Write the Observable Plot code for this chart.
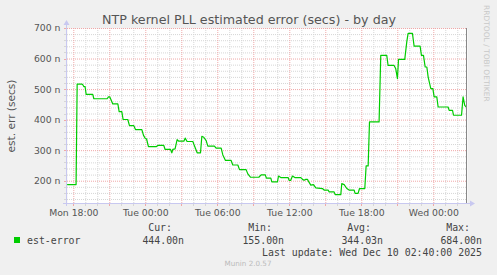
<!DOCTYPE html>
<html><head><meta charset="utf-8">
<script src="https://cdn.jsdelivr.net/npm/d3@7"></script>
<script src="https://cdn.jsdelivr.net/npm/@observablehq/plot@0.6"></script>
<style>
html,body{margin:0;padding:0;background:#f0f0f0;}
#chart{width:497px;height:275px;overflow:hidden;}
</style></head><body><div id="chart"></div>
<script>
// Data: hours after Mon 2025-12-08 18:00 (UTC) and estimated error in nanoseconds
const hoursAfterMon18 = [-0.52,0.19,0.28,0.67,0.75,0.83,0.94,1.03,1.58,1.67,2.78,2.89,3.0,3.11,3.25,3.67,3.78,4.0,4.11,4.5,4.64,5.0,5.14,5.67,5.81,5.97,6.06,6.22,6.86,7.0,7.5,7.61,8.06,8.17,8.25,8.44,8.61,8.75,9.17,9.28,9.44,9.92,10.06,10.28,10.56,10.67,10.83,11.03,11.17,11.72,11.86,12.28,12.42,12.64,13.11,13.25,13.67,13.81,14.36,14.5,14.72,15.42,15.61,15.95,16.05,16.42,16.5,16.97,17.06,17.25,17.86,17.94,18.08,18.22,18.42,18.92,19.06,19.19,19.33,19.47,19.61,19.75,19.97,20.17,20.72,20.86,21.19,21.28,21.69,21.78,22.25,22.33,22.53,22.75,22.94,23.36,23.44,23.69,23.81,24.25,24.36,24.53,24.64,25.44,25.58,26.08,26.19,26.69,26.83,26.97,27.06,27.58,27.75,27.86,28.22,28.36,28.86,28.97,29.14,29.28,29.42,29.53,29.75,29.92,30.03,30.25,30.36,31.19,31.28,31.56,31.64,32.31,32.44,32.58,32.67];
const estErrorNs = [189,189,518,518,516,510,510,484,484,470,470,476,476,466,453,453,428,428,402,402,382,382,369,369,350,339,339,313,313,317,317,304,304,293,304,306,336,331,331,341,330,330,315,293,293,347,344,333,315,315,308,308,286,268,268,253,253,238,238,224,213,213,221,221,210,210,198,198,217,212,212,203,203,217,212,212,206,203,206,206,196,187,189,178,176,171,171,165,165,156,156,192,189,176,171,171,160,160,176,176,250,250,394,394,612,612,579,579,568,536,599,599,657,684,684,642,642,612,612,574,574,541,503,503,476,476,443,443,432,432,416,416,476,448,444];

const yTicks = [200,300,400,500,600,700];
const yMinor = [140,160,180,220,240,260,280,320,340,360,380,420,440,460,480,520,540,560,580,620,640,660,680];
const xLabelHours = [0,6,12,18,24,30];
const xMajorHours = [0,3,6,9,12,15,18,21,24,27,30];
const xMinorHours = [0,1,2,3,4,5,6,7,8,9,10,11,12,13,14,15,16,17,18,19,20,21,22,23,24,25,26,27,28,29,30,31,32];
const yDomain = [127, 700];
const domainHours = [-0.525, 32.808];

const title = "NTP kernel PLL estimated error (secs) - by day";
const yLabel = "est. err (secs)";
const seriesName = "est-error";
const legendHeaders = ["Cur:", "Min:", "Avg:", "Max:"];
const legendValues = ["444.00n", "155.00n", "344.03n", "684.00n"];
const lastUpdate = "Last update: Wed Dec 10 02:40:00 2025";
const credit = "Munin 2.0.57";
const vendor = "RRDTOOL / TOBI OETIKER";

const base = Date.UTC(2025, 11, 8, 18, 0, 0);
const toDate = h => new Date(base + h * 3600e3);
const data = hoursAfterMon18.map((h, i) => ({t: toDate(h), v: estErrorNs[i]}));

const lineColor = "#00cc00";
const minorColor = "#d6d6d6";
const majorColor = "#f0a8a8";
const axisColor = "#c8c8f0";

const plot = Plot.plot({
  width: 497, height: 275,
  marginLeft: 67, marginRight: 30, marginTop: 28, marginBottom: 72,
  style: {background: "transparent", fontFamily: "DejaVu Sans", fontSize: "9.3px", color: "#555", overflow: "visible"},
  x: {type: "utc", domain: domainHours.map(toDate), ticks: xLabelHours.map(toDate), tickFormat: d3.utcFormat("%a %H:%M"), tickSize: 0, tickPadding: 6, label: null},
  y: {domain: yDomain, ticks: yTicks, tickFormat: d => d + " n", tickSize: 0, tickPadding: 7, label: null},
  marks: [
    Plot.frame({fill: "white", stroke: null}),
    Plot.ruleY(yMinor, {stroke: minorColor, strokeDasharray: "1,1"}),
    Plot.ruleX(xMinorHours.filter(h => h % 3 !== 0).map(toDate), {stroke: minorColor, strokeDasharray: "1,1"}),
    Plot.ruleY(yTicks, {stroke: majorColor, strokeDasharray: "1,1"}),
    Plot.ruleX(xMajorHours.map(toDate), {stroke: majorColor, strokeDasharray: "1,1"}),
    Plot.line(data, {x: "t", y: "v", stroke: lineColor, strokeWidth: 1.2})
  ]
});
document.getElementById("chart").appendChild(plot);

// decorations
const svg = d3.select(plot);
const sx = plot.scale("x"), sy = plot.scale("y");
const x0 = 67, x1 = 467, yTop = 28, yBot = 203;
const g = svg.append("g").attr("text-anchor", "start");
// tick marks below x axis and left of y axis
xMinorHours.forEach(h => {
  const px = Math.round(sx.apply(toDate(h))) + 0.5;
  g.append("line").attr("x1", px).attr("x2", px).attr("y1", yBot).attr("y2", yBot + 3)
    .attr("stroke", h % 3 === 0 ? majorColor : minorColor);
});
yMinor.concat(yTicks).forEach(v => {
  const py = Math.round(sy.apply(v)) + 0.5;
  g.append("line").attr("x1", x0 - 3).attr("x2", x0).attr("y1", py).attr("y2", py)
    .attr("stroke", yTicks.includes(v) ? majorColor : minorColor);
});
// axes with arrows
g.append("line").attr("x1", x0 - 0.5).attr("x2", x0 - 0.5).attr("y1", yBot + 3).attr("y2", yTop - 4).attr("stroke", axisColor);
g.append("path").attr("d", `M${x0-3.5},${yTop-3} L${x0+2.5},${yTop-3} L${x0-0.5},${yTop-8} Z`).attr("fill", axisColor);
g.append("line").attr("x1", x0 - 4).attr("x2", x1 + 4).attr("y1", yBot + 0.5).attr("y2", yBot + 0.5).attr("stroke", axisColor);
g.append("path").attr("d", `M${x1+3},${yBot-2.5} L${x1+3},${yBot+3.5} L${x1+8},${yBot+0.5} Z`).attr("fill", axisColor);
// right frame
g.append("line").attr("x1", x1 - 0.5).attr("x2", x1 - 0.5).attr("y1", yTop).attr("y2", yBot).attr("stroke", "#888");

// title & labels
g.append("text").attr("x", 249).attr("y", 24).attr("text-anchor", "middle")
  .style("font", "12.7px 'DejaVu Sans'").attr("fill", "#555").text(title);
g.append("text").attr("transform", "translate(15,116) rotate(-90)").attr("text-anchor", "middle")
  .style("font", "10.6px 'DejaVu Sans'").attr("fill", "#555").text(yLabel);
g.append("text").attr("transform", "translate(484,5) rotate(90)").attr("text-anchor", "start")
  .style("font", "7.5px 'DejaVu Sans'").attr("fill", "#c8c8c8").text(vendor);

// legend
const mono = "9.9px 'DejaVu Sans Mono'";
const headerEnds = [172, 272, 371, 470];
const valueEnds = [184, 284, 383, 482];
legendHeaders.forEach((h, i) => g.append("text").attr("x", headerEnds[i]).attr("y", 231).attr("text-anchor", "end")
  .style("font", mono).attr("fill", "#444").text(h));
legendValues.forEach((v, i) => g.append("text").attr("x", valueEnds[i]).attr("y", 243.5).attr("text-anchor", "end")
  .style("font", mono).attr("fill", "#444").text(v));
g.append("rect").attr("x", 14).attr("y", 237).attr("width", 6).attr("height", 6).attr("fill", lineColor);
g.append("text").attr("x", 27).attr("y", 243.5).attr("text-anchor", "start").style("font", mono).attr("fill", "#444").text(seriesName);
g.append("text").attr("x", 482).attr("y", 255.5).attr("text-anchor", "end").style("font", mono).attr("fill", "#444").text(lastUpdate);
g.append("text").attr("x", 248).attr("y", 266).attr("text-anchor", "middle")
  .style("font", "7.2px 'DejaVu Sans'").attr("fill", "#bbb").text(credit);
</script></body></html>
